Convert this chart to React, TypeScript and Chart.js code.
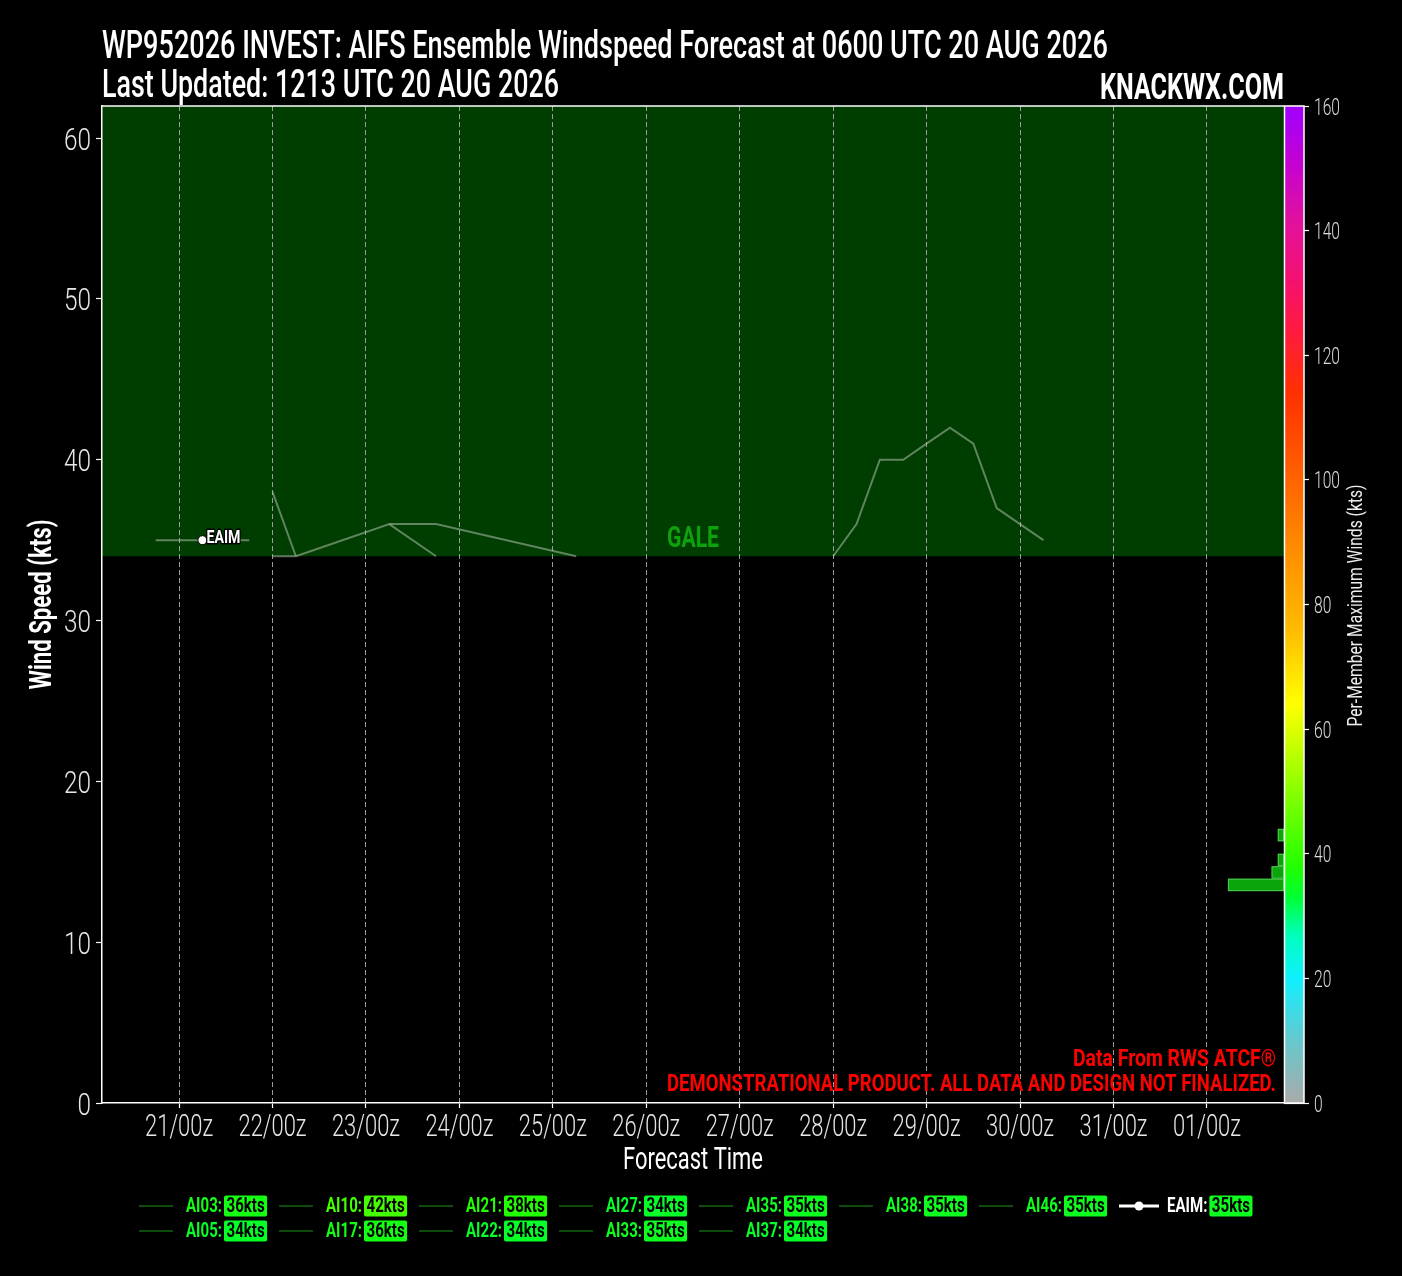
import React, { useEffect, useRef } from 'react';
import { Chart, registerables } from 'chart.js';

Chart.register(...registerables);

const FAMILY = "Roboto, 'Liberation Sans', Arial, sans-serif";

// ---------- data ----------
// x values are forecast hours after 0600 UTC 20 AUG 2026
const xMin = -1.8;
const xMax = 301.8;
const dayTickHours = [18, 42, 66, 90, 114, 138, 162, 186, 210, 234, 258, 282];
const dayTickLabels = ['21/00z', '22/00z', '23/00z', '24/00z', '25/00z', '26/00z', '27/00z', '28/00z', '29/00z', '30/00z', '31/00z', '01/00z'];
const yMin = 0;
const yMax = 62;
const yStep = 10;
const galeThreshold = 34;
const galeLabelY = 35;
const colorbarMin = 0;
const colorbarMax = 160;
const colorbarStep = 20;

const memberNames = ['AI03', 'AI05', 'AI10', 'AI17', 'AI21', 'AI22', 'AI27', 'AI33', 'AI35', 'AI37', 'AI38', 'AI46'];
const memberMaxWinds = [36, 34, 42, 36, 38, 34, 34, 35, 35, 34, 35, 35];
const eaimName = 'EAIM';
const eaimMaxWind = 35;

// visible member traces (hour, kts)
const ai03Hours = [48, 72, 84];
const ai03Winds = [34, 36, 34];
const ai05Hours = [42, 48];
const ai05Winds = [34, 34];
const ai10Hours = [186, 192, 198, 204, 210, 216, 222, 228, 234, 240];
const ai10Winds = [34, 36, 40, 40, 41, 42, 41, 37, 36, 35];
const ai17Hours = [72, 84, 120];
const ai17Winds = [36, 36, 34];
const ai21Hours = [42, 48];
const ai21Winds = [38, 34];
const eaimHours = [12, 24, 36];
const eaimWinds = [35, 35, 35];
const eaimMarkerIndex = 1;

// histogram of per-member maximum winds (2 kt bins), plotted against the colorbar scale
const histBinStarts = [34, 36, 38, 40, 42];
const histBinWidth = 2;
const histCounts = [9, 2, 1, 0, 1];
const histCountAxisMax = 189.7;

// colormap stops (kts, colour)
const cmapValues = [0, 10, 20, 27, 33, 38, 46, 56, 64, 76, 90, 104, 114, 124, 132, 142, 152, 160];
const cmapColors = ['#aaaaaa', '#66c8cc', '#10f0ff', '#00ffbb', '#00ff33', '#22ff00', '#66ff00', '#bbff00', '#ffff00', '#ffbb00', '#ff8800', '#ff5500', '#ff3000', '#ff1a40', '#f51070', '#e010a0', '#c000d8', '#a000ff'];

const legendColumns = [['AI03', 'AI05'], ['AI10', 'AI17'], ['AI21', 'AI22'], ['AI27', 'AI33'], ['AI35', 'AI37'], ['AI38'], ['AI46'], ['EAIM']];

const titleLine1 = 'WP952026 INVEST: AIFS Ensemble Windspeed Forecast at 0600 UTC 20 AUG 2026';
const titleLine2 = 'Last Updated: 1213 UTC 20 AUG 2026';
const brand = 'KNACKWX.COM';
const note1 = 'Data From RWS ATCF®';
const note2 = 'DEMONSTRATIONAL PRODUCT. ALL DATA AND DESIGN NOT FINALIZED.';
const colorbarTitle = 'Per-Member Maximum Winds (kts)';
const xTitle = 'Forecast Time';
const yTitle = 'Wind Speed (kts)';

// ---------- helpers ----------
function hexToRgb(h: string) {
  const n = parseInt(h.slice(1), 16);
  return [(n >> 16) & 255, (n >> 8) & 255, n & 255];
}
function cmap(v: number) {
  if (v <= cmapValues[0]) return cmapColors[0];
  for (let i = 1; i < cmapValues.length; i++) {
    if (v <= cmapValues[i]) {
      const t = (v - cmapValues[i - 1]) / (cmapValues[i] - cmapValues[i - 1]);
      const a = hexToRgb(cmapColors[i - 1]);
      const b = hexToRgb(cmapColors[i]);
      const c = a.map((x, k) => Math.round(x + (b[k] - x) * t));
      return `rgb(${c[0]},${c[1]},${c[2]})`;
    }
  }
  return cmapColors[cmapColors.length - 1];
}
const fontStr = (weight: string, size: number) => `${weight} ${size}px ${FAMILY}`;
function scaleFor(ctx: CanvasRenderingContext2D, sample: string, weight: string, size: number, target: number) {
  ctx.font = fontStr(weight, size);
  return Math.max(0.55, Math.min(1.3, target / ctx.measureText(sample).width));
}
// draw text at a given size, horizontally scaled to a target width (or by a fixed factor)
function drawFit(ctx: CanvasRenderingContext2D, text: string, x: number, y: number, weight: string, size: number, target: number, align: CanvasTextAlign, sxFixed?: number) {
  ctx.font = fontStr(weight, size);
  const w = ctx.measureText(text).width;
  const sx = sxFixed ?? Math.max(0.55, Math.min(1.3, target / w));
  ctx.save();
  ctx.translate(x, y);
  ctx.scale(sx, 1);
  ctx.textAlign = align;
  ctx.fillText(text, 0, 0);
  ctx.restore();
  return w * sx;
}
const pts = (hs: number[], ws: number[]) => hs.map((h, i) => ({ x: h, y: ws[i] }));

const memberLineColor = 'rgba(180,200,180,0.52)';

const decorPlugin = {
  id: 'decor',
  beforeDraw(chart: any) {
    const { ctx, chartArea: ca, scales } = chart;
    ctx.save();
    ctx.fillStyle = '#000';
    ctx.fillRect(0, 0, chart.width, chart.height);
    const yTop = scales.y.getPixelForValue(yMax);
    const yG = scales.y.getPixelForValue(galeThreshold);
    ctx.fillStyle = '#003d00';
    ctx.fillRect(ca.left, yTop, ca.right - ca.left, yG - yTop);
    ctx.restore();
  },
  afterDatasetsDraw(chart: any) {
    const { ctx, chartArea: ca, scales } = chart;
    ctx.save();
    // histogram of member max winds
    const yc = scales.yc;
    const xh = scales.xh;
    histBinStarts.forEach((b, i) => {
      if (!histCounts[i]) return;
      const x1 = xh.getPixelForValue(histCounts[i]);
      const x2 = xh.getPixelForValue(0);
      const y1 = yc.getPixelForValue(b + histBinWidth);
      const y2 = yc.getPixelForValue(b);
      ctx.fillStyle = '#0aa50a';
      ctx.fillRect(x1, y1, x2 - x1, y2 - y1);
      ctx.strokeStyle = 'rgba(100,205,100,0.85)';
      ctx.lineWidth = 1;
      ctx.strokeRect(x1 + 0.5, y1 + 0.5, x2 - x1 - 1, y2 - y1 - 1);
    });

    // GALE label
    ctx.fillStyle = '#0da20d';
    ctx.textBaseline = 'middle';
    drawFit(ctx, 'GALE', (ca.left + ca.right) / 2, scales.y.getPixelForValue(galeLabelY), 'bold', 29, 52, 'center');

    // EAIM point label
    const eIdx = chart.data.datasets.findIndex((d: any) => d.label === eaimName);
    const ep = chart.getDatasetMeta(eIdx).data[eaimMarkerIndex];
    if (ep) {
      ctx.font = fontStr('bold', 18);
      ctx.textBaseline = 'alphabetic';
      const w = ctx.measureText('EAIM').width;
      const sx = 34 / w;
      ctx.save();
      ctx.translate(ep.x + 4, ep.y + 3);
      ctx.scale(sx, 1);
      ctx.lineWidth = 3;
      ctx.strokeStyle = '#000';
      ctx.lineJoin = 'round';
      ctx.textAlign = 'left';
      ctx.strokeText('EAIM', 0, 0);
      ctx.fillStyle = '#fff';
      ctx.fillText('EAIM', 0, 0);
      ctx.restore();
    }

    // colorbar strip
    const y0 = yc.getPixelForValue(colorbarMin);
    const y1 = yc.getPixelForValue(colorbarMax);
    const g = ctx.createLinearGradient(0, y0, 0, y1);
    cmapValues.forEach((v, i) => g.addColorStop((v - colorbarMin) / (colorbarMax - colorbarMin), cmapColors[i]));
    ctx.fillStyle = g;
    ctx.fillRect(ca.right, y1, 20, y0 - y1);
    ctx.strokeStyle = '#fff';
    ctx.lineWidth = 1.5;
    ctx.strokeRect(ca.right + 0.5, y1, 19.5, y0 - y1);

    // top frame line
    ctx.beginPath();
    ctx.moveTo(ca.left, ca.top);
    ctx.lineTo(ca.right, ca.top);
    ctx.stroke();

    // notes
    ctx.fillStyle = '#ff0000';
    ctx.textBaseline = 'alphabetic';
    drawFit(ctx, note1, 1276, 1066, 'bold', 24, 203, 'right');
    drawFit(ctx, note2, 1276, 1091, 'bold', 23.5, 609, 'right');
    ctx.restore();
  },
  afterDraw(chart: any) {
    const { ctx, chartArea: ca, scales } = chart;
    ctx.save();
    ctx.textBaseline = 'alphabetic';

    // axis tick labels (positions from the chart's scales)
    ctx.fillStyle = '#e6e6e6';
    const xs = scales.x;
    const sxX = scaleFor(ctx, '21/00z', '300', 32, 68);
    xs.ticks.forEach((t: any, i: number) => {
      const label = t.label ?? dayTickLabels[dayTickHours.indexOf(t.value)];
      drawFit(ctx, String(label), xs.getPixelForTick(i), 1136, '300', 32, 0, 'center', sxX);
    });
    const ys = scales.y;
    const sxY = scaleFor(ctx, '60', '300', 32, 27);
    ys.ticks.forEach((t: any, i: number) => {
      drawFit(ctx, String(t.value), ca.left - 11, ys.getPixelForTick(i) + 11.5, '300', 32, 0, 'right', sxY);
    });
    const cs = scales.yc;
    const sxC = scaleFor(ctx, '160', '300', 24, 26);
    ctx.fillStyle = '#dcdcdc';
    cs.ticks.forEach((t: any, i: number) => {
      drawFit(ctx, String(t.value), ca.right + 30, cs.getPixelForTick(i) + 8.5, '300', 24, 0, 'left', sxC);
    });

    // axis titles
    ctx.fillStyle = '#fff';
    drawFit(ctx, xTitle, (ca.left + ca.right) / 2, 1169, 'normal', 32, 140, 'center');
    ctx.save();
    ctx.translate(51, (ca.top + ca.bottom) / 2);
    ctx.rotate(-Math.PI / 2);
    drawFit(ctx, yTitle, 0, 0, 'bold', 31, 170, 'center');
    ctx.restore();

    // titles
    drawFit(ctx, titleLine1, 102, 58, '500', 38, 1006, 'left');
    drawFit(ctx, titleLine2, 102, 97, '500', 38, 457, 'left');
    drawFit(ctx, brand, 1284, 99, 'bold', 36, 184, 'right');

    // colorbar title
    ctx.save();
    ctx.translate(1362, (ca.top + ca.bottom) / 2 + 1);
    ctx.rotate(-Math.PI / 2);
    ctx.fillStyle = '#ececec';
    drawFit(ctx, colorbarTitle, 0, 0, 'normal', 19.5, 242, 'center');
    ctx.restore();

    // legend
    const legSx = scaleFor(ctx, 'AI03:', 'bold', 20, 36);
    legendColumns.forEach((col, c) => {
      col.forEach((name, r) => {
        const x0 = 139 + 140 * c;
        const y = 1206 + 25 * r;
        const isMean = name === eaimName;
        const maxW = isMean ? eaimMaxWind : memberMaxWinds[memberNames.indexOf(name)];
        if (isMean) {
          ctx.strokeStyle = '#fff';
          ctx.lineWidth = 3;
          ctx.beginPath();
          ctx.moveTo(x0, y);
          ctx.lineTo(x0 + 40, y);
          ctx.stroke();
          ctx.fillStyle = '#fff';
          ctx.beginPath();
          ctx.arc(x0 + 20, y, 4.5, 0, Math.PI * 2);
          ctx.fill();
        } else {
          ctx.strokeStyle = '#0e4a0e';
          ctx.lineWidth = 2;
          ctx.beginPath();
          ctx.moveTo(x0, y);
          ctx.lineTo(x0 + 34, y);
          ctx.stroke();
        }
        const lx = isMean ? x0 + 48 : x0 + 47;
        ctx.textBaseline = 'middle';
        ctx.fillStyle = isMean ? '#fff' : cmap(maxW);
        const lw = drawFit(ctx, `${name}:`, lx, y + 1, 'bold', 20, 0, 'left', legSx);
        const val = `${maxW}kts`;
        ctx.font = fontStr('bold', 20);
        const vw = ctx.measureText(val).width * legSx;
        const bx = lx + lw + 2;
        const bw = vw + 5;
        ctx.fillStyle = cmap(maxW);
        ctx.beginPath();
        (ctx as any).roundRect(bx, y - 10.5, bw, 21, 2);
        ctx.fill();
        ctx.fillStyle = '#000';
        drawFit(ctx, val, bx + bw / 2, y + 1, 'bold', 20, 0, 'center', legSx);
      });
    });
    ctx.restore();
  },
};

function buildConfig(): any {
  const lineDs = (label: string, hs: number[], ws: number[]) => ({
    type: 'line',
    label,
    data: pts(hs, ws),
    borderColor: memberLineColor,
    borderWidth: 2,
    pointRadius: 0,
    tension: 0,
    xAxisID: 'x',
    yAxisID: 'y',
  });
  return {
    type: 'line',
    data: {
      datasets: [
        lineDs('AI03', ai03Hours, ai03Winds),
        lineDs('AI05', ai05Hours, ai05Winds),
        lineDs('AI10', ai10Hours, ai10Winds),
        lineDs('AI17', ai17Hours, ai17Winds),
        lineDs('AI21', ai21Hours, ai21Winds),
        {
          ...lineDs(eaimName, eaimHours, eaimWinds),
          pointRadius: eaimHours.map((_, i) => (i === eaimMarkerIndex ? 4.5 : 0)),
          pointBackgroundColor: '#fff',
          pointBorderColor: '#000',
          pointBorderWidth: 1,
        },
      ],
    },
    options: {
      responsive: false,
      devicePixelRatio: 1,
      animation: false,
      events: [],
      layout: { padding: { left: 0, right: 0, top: 106, bottom: 101 } },
      plugins: { legend: { display: false }, tooltip: { enabled: false }, title: { display: false } },
      scales: {
        x: {
          type: 'linear',
          position: 'bottom',
          min: xMin,
          max: xMax,
          afterBuildTicks: (s: any) => {
            s.ticks = dayTickHours.map((v) => ({ value: v }));
          },
          afterFit: (s: any) => {
            s.height = 72;
          },
          ticks: {
            display: false,
            autoSkip: false,
            maxRotation: 0,
            callback: (v: number) => dayTickLabels[dayTickHours.indexOf(v)] ?? '',
          },
          grid: { color: '#9c9c9c', lineWidth: 1, drawTicks: true, tickLength: 5, tickColor: '#fff', tickWidth: 1.2 },
          border: { display: true, color: '#fff', width: 1.5, dash: [5, 3] },
        },
        y: {
          type: 'linear',
          position: 'left',
          min: yMin,
          max: yMax,
          afterFit: (s: any) => {
            s.width = 102;
          },
          ticks: { display: false, stepSize: yStep, includeBounds: false },
          grid: { drawOnChartArea: false, drawTicks: true, tickLength: 6, tickColor: '#fff', tickWidth: 1.2 },
          border: { display: true, color: '#fff', width: 1.5 },
        },
        yc: {
          type: 'linear',
          position: 'right',
          min: colorbarMin,
          max: colorbarMax,
          afterFit: (s: any) => {
            s.width = 118;
          },
          ticks: { display: false, stepSize: colorbarStep },
          grid: { drawOnChartArea: false, drawTicks: true, tickLength: 25, tickColor: '#fff', tickWidth: 1.2 },
          border: { display: false },
        },
        xh: {
          type: 'linear',
          display: false,
          reverse: true,
          min: 0,
          max: histCountAxisMax,
        },
      },
    },
    plugins: [decorPlugin],
  };
}

export default function App() {
  const ref = useRef<HTMLCanvasElement>(null);
  useEffect(() => {
    document.body.style.margin = '0';
    document.body.style.background = '#000';
    const chart = new Chart(ref.current as HTMLCanvasElement, buildConfig());
    return () => chart.destroy();
  }, []);
  return (
    <div style={{ width: 1402, height: 1276, background: '#000' }}>
      <canvas ref={ref} width={1402} height={1276} style={{ display: 'block', width: 1402, height: 1276 }} />
    </div>
  );
}
